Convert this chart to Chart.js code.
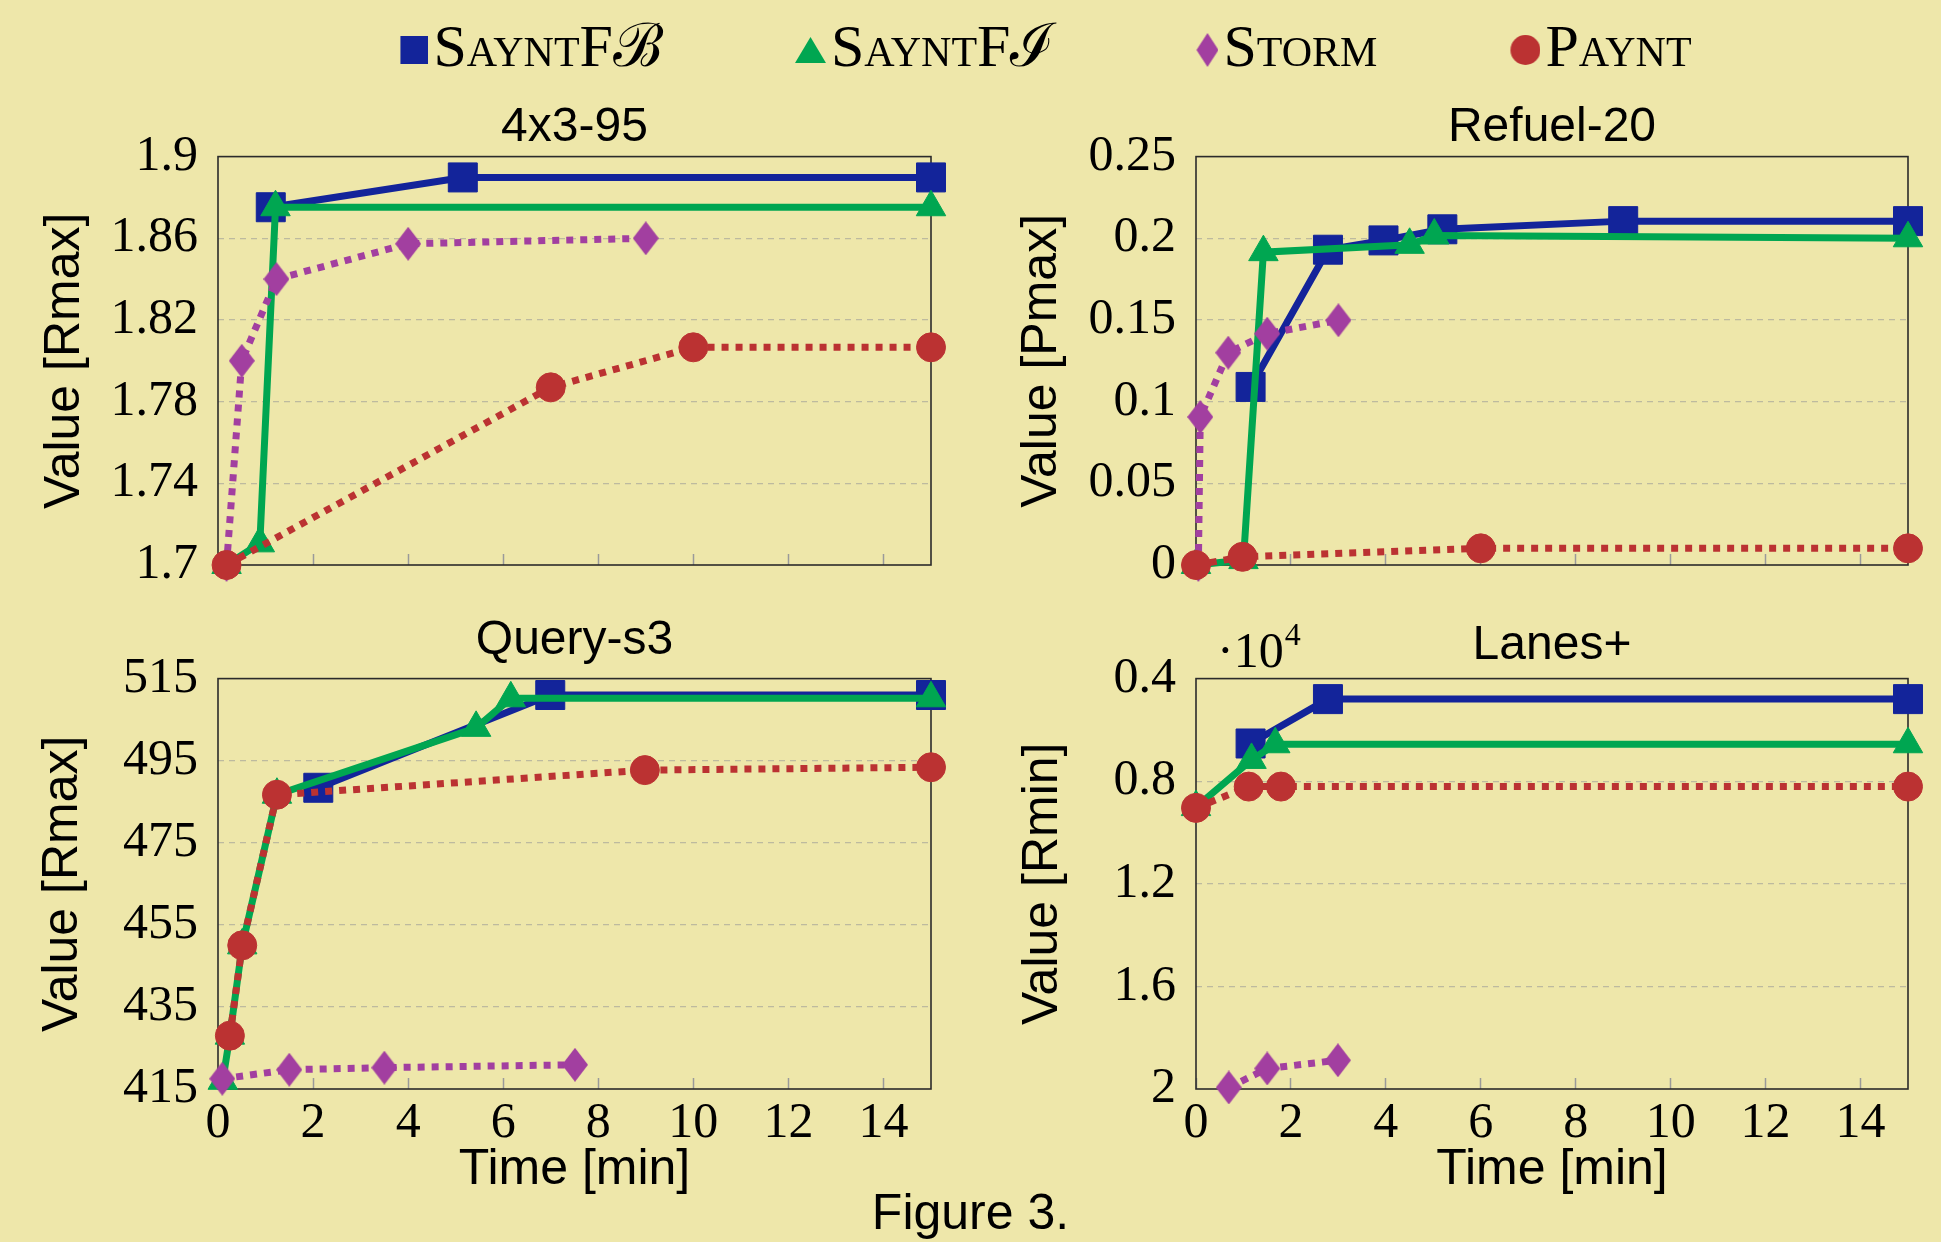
<!DOCTYPE html>
<html>
<head>
<meta charset="utf-8">
<title>Figure 3</title>
<script src="https://cdn.jsdelivr.net/npm/chart.js@4.4.0/dist/chart.umd.min.js"></script>
<style>
  html, body { margin: 0; padding: 0; background: #EEE7AA; width: 1941px; height: 1242px; overflow: hidden; }
  canvas { position: absolute; }
</style>
</head>
<body>
<canvas id="frame" width="1941" height="1242" style="left:0;top:0"></canvas>
<canvas id="c4x3" width="970" height="556" style="left:0;top:59px"></canvas>
<canvas id="cRefuel" width="971" height="556" style="left:970px;top:59px"></canvas>
<canvas id="cQuery" width="970" height="620" style="left:0;top:580px"></canvas>
<canvas id="cLanes" width="971" height="620" style="left:970px;top:580px"></canvas>
<script>
/* ---- data: time [min] / value per series ---- */
const xTicks = [0, 2, 4, 6, 8, 10, 12, 14];

// 4x3-95, Value [Rmax]
const y4x3 = [1.7, 1.74, 1.78, 1.82, 1.86, 1.9];
const t4x3Fb = [1.11, 5.15, 15],            v4x3Fb = [1.8752, 1.8898, 1.8898];
const t4x3Fi = [0.18, 0.88, 1.21, 15],      v4x3Fi = [1.7, 1.7106, 1.8752, 1.8752];
const t4x3St = [0.18, 0.5, 1.23, 4.0, 9.0], v4x3St = [1.7, 1.80, 1.84, 1.8573, 1.86];
const t4x3Pa = [0.18, 7.0, 10.0, 15],       v4x3Pa = [1.7, 1.787, 1.8066, 1.8066];

// Refuel-20, Value [Pmax]
const yRef = [0, 0.05, 0.1, 0.15, 0.2, 0.25];
const tRefFb = [1.15, 2.78, 3.95, 5.19, 9.0, 15], vRefFb = [0.109, 0.193, 0.1987, 0.2055, 0.2105, 0.2105];
const tRefFi = [0, 1.0, 1.42, 4.5, 5.02, 15],     vRefFi = [0, 0.003, 0.1915, 0.196, 0.2017, 0.2];
const tRefSt = [0.05, 0.09, 0.68, 1.5, 3.0],      vRefSt = [0, 0.0906, 0.13, 0.1416, 0.1498];
const tRefPa = [0, 0.98, 6.0, 15],                vRefPa = [0, 0.005, 0.0102, 0.0102];

// Query-s3, Value [Rmax]
const yQry = [415, 435, 455, 475, 495, 515];
const tQryFb = [2.11, 6.99, 15],                        vQryFb = [488.4, 511, 511];
const tQryFi = [0.1, 0.25, 0.51, 1.24, 5.43, 6.16, 15], vQryFi = [417, 428, 450, 486.7, 503, 510.2, 510.2];
const tQrySt = [0.09, 1.5, 3.5, 7.51],                  vQrySt = [417.5, 419.7, 420.2, 420.9];
const tQryPa = [0.25, 0.51, 1.24, 8.98, 15],            vQryPa = [428, 450, 486.7, 492.7, 493.4];

// Lanes+, Value [Rmin] (reversed axis, scaled by 10^4)
const yLan = [4000, 8000, 12000, 16000, 20000];
const tLanFb = [1.15, 2.78, 15],      vLanFb = [6530, 4800, 4800];
const tLanFi = [0, 1.17, 1.67, 15],   vLanFi = [9010, 7170, 6560, 6560];
const tLanSt = [0.69, 1.5, 2.99],     vLanSt = [19940, 19200, 18880];
const tLanPa = [0, 1.11, 1.79, 15],   vLanPa = [9040, 8210, 8210, 8210];

/* ---- styling ---- */
const SERIF = "'Liberation Serif', serif";
const SANS = "'Liberation Sans', sans-serif";
const BLUE = '#13249A', GREEN = '#00A651', PURPLE = '#A23FA0', RED = '#BB3232';
const GRID = 'rgba(150,150,150,0.55)';

// marker drawn at the right end of a canvas of width totalW (legend needs it hugging the text)
function markerCanvas(shape, color, w, h, totalW) {
  const c = document.createElement('canvas');
  const W = totalW || w;
  c.width = W; c.height = h;
  const g = c.getContext('2d');
  const x0 = W - w;
  g.fillStyle = color;
  g.beginPath();
  if (shape === 'rect') g.rect(x0, 0, w, h);
  else if (shape === 'triangle') { g.moveTo(x0 + w / 2, 0); g.lineTo(x0 + w, h); g.lineTo(x0, h); }
  else if (shape === 'diamond') { g.moveTo(x0 + w / 2, 0); g.lineTo(x0 + w, h / 2); g.lineTo(x0 + w / 2, h); g.lineTo(x0, h / 2); }
  else g.ellipse(x0 + w / 2, h / 2, w / 2, h / 2, 0, 0, Math.PI * 2);
  g.closePath();
  g.fill();
  return c;
}

const SERIES = {
  fb: { label: 'SayntFℬ', color: BLUE, dash: [], marker: 'rect', radius: 20.5 },
  fi: { label: 'SayntFℐ', color: GREEN, dash: [], marker: 'triangle', radius: 17 },
  st: { label: 'Storm', color: PURPLE, dash: [7, 7], marker: markerCanvas('diamond', PURPLE, 26, 34), radius: 13 },
  pa: { label: 'Paynt', color: RED, dash: [7, 7], marker: 'circle', radius: 14.5 }
};
const LEGEND_MARK = {
  fb: markerCanvas('rect', BLUE, 28, 28, 51),
  fi: markerCanvas('triangle', GREEN, 31, 26, 51),
  st: markerCanvas('diamond', PURPLE, 22, 34, 51),
  pa: markerCanvas('circle', RED, 30, 30, 51)
};

function pts(t, v) { return t.map((x, i) => ({ x: x, y: v[i] })); }

function lineSet(kind, t, v) {
  const s = SERIES[kind];
  return {
    label: s.label, data: pts(t, v),
    borderColor: s.color, backgroundColor: s.color, borderWidth: 7, borderDash: s.dash,
    pointStyle: s.marker, pointRadius: s.radius, pointBackgroundColor: s.color,
    pointBorderColor: s.color, pointBorderWidth: 1, tension: 0, clip: false
  };
}

const framePlugin = {
  id: 'frame',
  beforeDatasetsDraw(chart) {
    const { ctx, chartArea: a } = chart;
    ctx.save();
    ctx.strokeStyle = '#2b2b2b';
    ctx.lineWidth = 1.6;
    ctx.strokeRect(a.left, a.top, a.right - a.left, a.bottom - a.top);
    ctx.restore();
  }
};

// pgfplots-style "·10^4" scale note above the y axis
const sciPlugin = {
  id: 'sci',
  afterDraw(chart, args, opts) {
    if (!opts.show) return;
    const { ctx, chartArea: a } = chart;
    ctx.save();
    ctx.fillStyle = '#000';
    ctx.textBaseline = 'alphabetic';
    ctx.font = '50px ' + SERIF;
    const base = '·10';
    ctx.fillText(base, a.left + 21, a.top - 12);
    const w = ctx.measureText(base).width;
    ctx.font = '32px ' + SERIF;
    ctx.fillText('4', a.left + 21 + w + 1, a.top - 34);
    ctx.restore();
  }
};

function makePlot(id, o) {
  return new Chart(document.getElementById(id), {
    type: 'line',
    data: {
      datasets: [
        lineSet('pa', o.pa[0], o.pa[1]),
        lineSet('st', o.st[0], o.st[1]),
        lineSet('fi', o.fi[0], o.fi[1]),
        lineSet('fb', o.fb[0], o.fb[1])
      ]
    },
    options: {
      responsive: false,
      animation: false,
      events: [],
      layout: { padding: { left: 0, right: o.padRight, top: 0, bottom: 0 } },
      plugins: {
        legend: { display: false },
        tooltip: { enabled: false },
        title: {
          display: true, text: o.title, fullSize: false, color: '#000',
          font: { family: SANS, size: 48, weight: 'normal' },
          padding: { top: o.titleTop, bottom: o.titleBottom }
        },
        sci: { show: !!o.sci }
      },
      scales: {
        x: {
          type: 'linear', min: 0, max: 15,
          afterBuildTicks: s => { s.ticks = xTicks.map(v => ({ value: v })); },
          afterFit: s => { s.height = o.xAxisH; },
          ticks: {
            display: o.showX, padding: 16, color: '#000', maxRotation: 0, minRotation: 0,
            autoSkip: false, font: { family: SERIF, size: 50 }
          },
          grid: { drawOnChartArea: false, drawTicks: true, tickLength: -11, tickColor: '#9a9a9a', tickWidth: 1.5 },
          border: { display: false },
          title: {
            display: o.showX, text: 'Time [min]', color: '#000',
            font: { family: SANS, size: 50 }, padding: { top: 0, bottom: 0 }
          }
        },
        y: {
          type: 'linear', min: o.yTicks[0], max: o.yTicks[o.yTicks.length - 1], reverse: !!o.reverse,
          afterBuildTicks: s => { s.ticks = o.yTicks.map(v => ({ value: v })); },
          afterFit: s => { s.width = o.yAxisW; },
          ticks: {
            padding: 20, color: '#000', autoSkip: false,
            font: { family: SERIF, size: 50 },
            callback: o.fmt || (v => String(+v.toFixed(4)))
          },
          grid: {
            drawTicks: false, lineWidth: 1.2,
            color: c => (c.index === 0 || c.index === o.yTicks.length - 1) ? 'rgba(0,0,0,0)' : GRID
          },
          border: { display: false, dash: [6, 5] },
          title: {
            display: true, text: o.yTitle, color: '#000',
            font: { family: SANS, size: 50 }, padding: { top: o.yTitlePad, bottom: 0 }
          }
        }
      }
    },
    plugins: [framePlugin, sciPlugin]
  });
}

makePlot('c4x3', {
  title: '4x3-95', yTitle: 'Value [Rmax]', yTicks: y4x3,
  fb: [t4x3Fb, v4x3Fb], fi: [t4x3Fi, v4x3Fi], st: [t4x3St, v4x3St], pa: [t4x3Pa, v4x3Pa],
  padRight: 39, yAxisW: 218, yTitlePad: 35, titleTop: 40, titleBottom: 0, xAxisH: 50, showX: false
});
makePlot('cRefuel', {
  title: 'Refuel-20', yTitle: 'Value [Pmax]', yTicks: yRef,
  fb: [tRefFb, vRefFb], fi: [tRefFi, vRefFi], st: [tRefSt, vRefSt], pa: [tRefPa, vRefPa],
  padRight: 33, yAxisW: 226, yTitlePad: 42, titleTop: 40, titleBottom: 0, xAxisH: 50, showX: false
});
makePlot('cQuery', {
  title: 'Query-s3', yTitle: 'Value [Rmax]', yTicks: yQry,
  fb: [tQryFb, vQryFb], fi: [tQryFi, vQryFi], st: [tQrySt, vQrySt], pa: [tQryPa, vQryPa],
  padRight: 39, yAxisW: 218, yTitlePad: 33, titleTop: 32, titleBottom: 9, xAxisH: 111, showX: true
});
makePlot('cLanes', {
  title: 'Lanes+', yTitle: 'Value [Rmin]', yTicks: yLan, reverse: true, sci: true,
  fmt: v => String(+(v / 1e4).toFixed(2)),
  fb: [tLanFb, vLanFb], fi: [tLanFi, vLanFi], st: [tLanSt, vLanSt], pa: [tLanPa, vLanPa],
  padRight: 33, yAxisW: 226, yTitlePad: 43, titleTop: 37, titleBottom: 4, xAxisH: 111, showX: true
});

/* ---- shared legend and caption ---- */
const LEG_PAD = 137;
const legendKinds = ['fb', 'fi', 'st', 'pa'];
new Chart(document.getElementById('frame'), {
  type: 'line',
  data: {
    datasets: legendKinds.map(k => ({
      label: SERIES[k].label, data: [], pointStyle: LEGEND_MARK[k],
      borderColor: SERIES[k].color, backgroundColor: SERIES[k].color
    }))
  },
  options: {
    responsive: false,
    animation: false,
    events: [],
    layout: { padding: { left: 0, right: 0, top: 20 - LEG_PAD, bottom: -3 } },
    scales: {
      x: { display: false },
      y: {
        display: true, ticks: { display: false }, grid: { display: false }, border: { display: false },
        afterFit: s => { s.width = 153; }
      }
    },
    plugins: {
      tooltip: { enabled: false },
      legend: {
        display: true, position: 'top', fullSize: false,
        labels: {
          usePointStyle: true, pointStyleWidth: 1, padding: LEG_PAD, color: '#000',
          font: { family: SERIF, size: 60, weight: 'small-caps' },
          generateLabels: chart => chart.data.datasets.map((ds, i) => ({
            text: ds.label, pointStyle: ds.pointStyle, fillStyle: ds.backgroundColor,
            strokeStyle: ds.borderColor, lineWidth: 0, hidden: false, datasetIndex: i, fontColor: '#000'
          }))
        }
      },
      title: {
        display: true, position: 'bottom', text: 'Figure 3.', color: '#000',
        font: { family: SANS, size: 50, weight: 'normal' }, padding: 0
      }
    }
  }
});
</script>
</body>
</html>
